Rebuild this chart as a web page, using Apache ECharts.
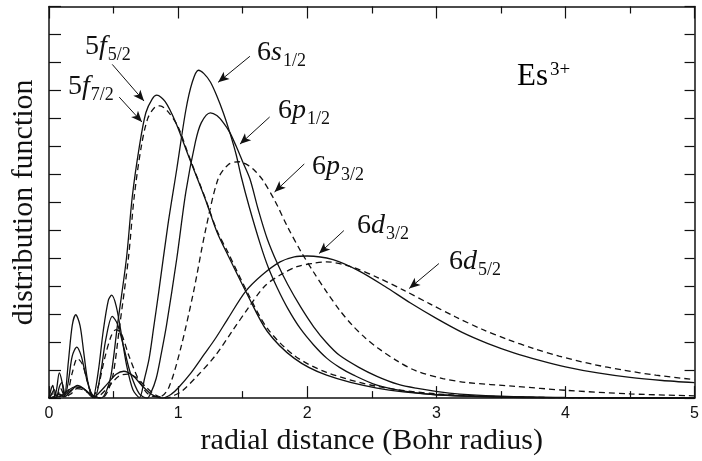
<!DOCTYPE html>
<html>
<head>
<meta charset="utf-8">
<script src="https://cdn.jsdelivr.net/npm/echarts@6/dist/echarts.min.js"></script>
<style>
  html, body { margin: 0; padding: 0; background: #fff; }
  #chart { width: 702px; height: 461px; }
</style>
</head>
<body>
<div id="chart"></div>
<script>
// radial distance (Bohr radius) vs distribution function
const f52 = [[0,0],[0.05,0.02],[0.1,0.1],[0.15,0.28],[0.2,0.4],[0.25,0.38],[0.3,0.22],[0.35,0.07],[0.4,0.0],[0.44,0.2],[0.48,0.8],[0.53,2.6],[0.6,5.0],[0.645,7.2],[0.7,9.0],[0.75,10.2],[0.8,10.7],[0.835,10.83],[0.9,10.6],[0.98,9.87],[1.08,8.66],[1.21,7.12],[1.3,5.95],[1.387,5.1],[1.54,3.67],[1.69,2.39],[1.9,1.42],[2.15,0.82],[2.54,0.36],[3.0,0.12],[3.5,0.04],[4,0.01],[5,0]];
const f72 = [[0,0],[0.05,0.02],[0.1,0.08],[0.15,0.22],[0.2,0.34],[0.25,0.32],[0.3,0.2],[0.35,0.06],[0.41,0.0],[0.45,0.2],[0.495,0.8],[0.545,2.5],[0.615,5.0],[0.66,7.2],[0.715,9.0],[0.765,10.0],[0.82,10.4],[0.86,10.45],[0.92,10.25],[1.0,9.7],[1.08,8.7],[1.21,7.15],[1.3,6.0],[1.387,5.2],[1.54,3.75],[1.69,2.5],[1.9,1.52],[2.15,0.92],[2.54,0.42],[3.0,0.15],[3.5,0.05],[4,0.015],[5,0]];
const s12 = [[0,0],[0.015,0.3],[0.03,0.45],[0.045,0.05],[0.06,0.35],[0.08,0.9],[0.1,0.6],[0.12,0.05],[0.15,1.3],[0.18,2.6],[0.207,2.98],[0.24,2.6],[0.27,1.6],[0.3,0.6],[0.34,0.02],[0.38,0.9],[0.42,2.4],[0.46,3.5],[0.485,3.68],[0.52,3.3],[0.56,2.3],[0.6,1.2],[0.65,0.3],[0.7,0.02],[0.74,0.7],[0.775,1.4],[0.81,2.5],[0.85,3.8],[0.92,6.16],[0.99,8.2],[1.06,10.3],[1.11,11.3],[1.157,11.72],[1.2,11.6],[1.25,11.3],[1.3,10.8],[1.35,10.2],[1.4,9.5],[1.45,8.7],[1.487,7.95],[1.55,6.85],[1.64,5.45],[1.7,4.65],[1.77,3.92],[1.85,3.2],[1.946,2.49],[2.05,1.9],[2.153,1.42],[2.25,1.1],[2.36,0.82],[2.54,0.46],[2.75,0.25],[3.0,0.12],[3.5,0.04],[4.0,0.015],[5,0.002]];
const p12 = [[0,0],[0.02,0.15],[0.04,0.3],[0.06,0.05],[0.08,0.4],[0.1,0.55],[0.125,0.1],[0.15,0.6],[0.18,1.5],[0.215,1.82],[0.25,1.5],[0.28,0.9],[0.32,0.25],[0.355,0.02],[0.4,0.9],[0.44,2.1],[0.49,2.92],[0.53,2.65],[0.58,1.8],[0.63,0.9],[0.7,0.15],[0.76,0.0],[0.79,0.2],[0.83,0.7],[0.87,1.6],[0.91,2.6],[0.99,5.0],[1.06,7.37],[1.134,9.16],[1.18,9.85],[1.25,10.2],[1.3,10.1],[1.35,9.85],[1.4,9.5],[1.45,9.0],[1.5,8.45],[1.556,7.84],[1.62,6.75],[1.69,5.7],[1.77,4.8],[1.85,4.05],[1.95,3.25],[2.05,2.55],[2.15,1.98],[2.25,1.53],[2.4,1.1],[2.54,0.78],[2.7,0.5],[2.84,0.36],[3.1,0.18],[3.5,0.07],[4,0.025],[5,0.003]];
const p32 = [[0,0],[0.03,0.15],[0.06,0.05],[0.09,0.35],[0.12,0.1],[0.145,0.2],[0.18,0.9],[0.22,1.42],[0.26,1.2],[0.3,0.55],[0.34,0.05],[0.38,0.4],[0.43,1.4],[0.48,2.2],[0.52,2.45],[0.56,2.3],[0.62,1.5],[0.7,0.6],[0.78,0.1],[0.86,0.05],[0.93,0.4],[1.02,1.78],[1.12,3.81],[1.21,5.95],[1.31,7.84],[1.39,8.35],[1.47,8.45],[1.55,8.3],[1.6,8.1],[1.655,7.8],[1.75,7.05],[1.85,6.1],[1.95,5.25],[2.05,4.5],[2.15,3.8],[2.25,3.15],[2.35,2.6],[2.45,2.15],[2.55,1.78],[2.7,1.32],[2.84,0.98],[3.05,0.7],[3.23,0.56],[3.61,0.42],[4.0,0.28],[4.5,0.15],[5,0.08]];
const d32 = [[0,0],[0.04,0.05],[0.08,0.15],[0.12,0.05],[0.16,0.2],[0.22,0.45],[0.28,0.3],[0.34,0.03],[0.38,0.15],[0.45,0.5],[0.52,0.85],[0.58,0.96],[0.65,0.8],[0.72,0.45],[0.8,0.12],[0.88,0.0],[0.95,0.15],[1.0,0.36],[1.1,0.9],[1.2,1.55],[1.29,2.14],[1.387,2.85],[1.52,3.8],[1.65,4.4],[1.79,4.87],[1.9,5.05],[2.0,5.08],[2.2,4.95],[2.4,4.55],[2.6,4.0],[2.8,3.4],[3.0,2.85],[3.2,2.35],[3.4,1.95],[3.6,1.62],[3.8,1.35],[4.0,1.12],[4.25,0.9],[4.5,0.74],[4.75,0.63],[5,0.55]];
const d52 = [[0,0],[0.04,0.04],[0.08,0.12],[0.12,0.04],[0.17,0.15],[0.23,0.38],[0.29,0.25],[0.35,0.02],[0.4,0.12],[0.47,0.45],[0.54,0.78],[0.61,0.86],[0.68,0.72],[0.75,0.4],[0.83,0.1],[0.91,0.0],[0.97,0.1],[1.03,0.25],[1.15,0.8],[1.29,1.53],[1.42,2.4],[1.54,3.2],[1.67,4.0],[1.79,4.4],[1.92,4.7],[2.05,4.82],[2.15,4.87],[2.35,4.68],[2.55,4.3],[2.75,3.85],[2.95,3.37],[3.15,2.9],[3.35,2.47],[3.55,2.1],[3.75,1.78],[3.95,1.5],[4.2,1.22],[4.45,1.0],[4.7,0.82],[5,0.66]];

// annotation arrows: [from, to] in data units
const arrows = [
  [[0.49, 11.93], [0.736, 10.62]],
  [[0.544, 10.76], [0.72, 9.87]],
  [[1.556, 12.22], [1.31, 11.29]],
  [[1.709, 10.05], [1.479, 9.08]],
  [[1.977, 8.37], [1.747, 7.37]],
  [[2.284, 5.99], [2.092, 5.17]],
  [[3.02, 4.81], [2.79, 3.92]]
];

const xTicks = ['0', '1', '2', '3', '4', '5'];

const serif = '"Liberation Serif", "Times New Roman", serif';
const ink = '#111';

function curve(name, data, dashed) {
  return {
    name: name,
    type: 'line',
    data: data,
    smooth: 0.3,
    showSymbol: false,
    symbol: 'none',
    lineStyle: { color: ink, width: 1.3, type: dashed ? [6, 4] : 'solid' },
    z: 3
  };
}

const rich = {
  n: { fontFamily: serif, fontSize: 28, lineHeight: 28, color: ink },
  i: { fontFamily: serif, fontSize: 28, lineHeight: 28, fontStyle: 'italic', color: ink },
  sub: { fontFamily: serif, fontSize: 18, lineHeight: 18, padding: [16, 0, 0, 1], color: ink },
  sup: { fontFamily: serif, fontSize: 19, lineHeight: 19, padding: [0, 0, 12, 2], color: ink }
};

function label(x, y, text) {
  return {
    type: 'text', left: x, top: y,
    style: { text: text, rich: rich, fill: ink }
  };
}

const chart = echarts.init(document.getElementById('chart'));
chart.setOption({
  animation: false,
  backgroundColor: '#fff',
  grid: { left: 49, right: 2, top: 6.5, bottom: 61 },
  xAxis: [{
    type: 'value', min: 0, max: 5, interval: 1,
    name: 'radial distance (Bohr radius)', nameLocation: 'middle', nameGap: 24,
    nameTextStyle: { fontFamily: serif, fontSize: 30, color: ink },
    axisLine: { show: true, onZero: false, lineStyle: { color: ink, width: 1.5 } },
    axisTick: { show: true, inside: true, length: 12, lineStyle: { color: ink, width: 1.2 } },
    minorTick: { show: true, splitNumber: 2, length: 7, lineStyle: { color: ink, width: 1.2 } },
    axisLabel: { margin: 7, fontFamily: '"Liberation Sans", Arial, sans-serif', fontSize: 16, color: ink,
      formatter: v => xTicks[Math.round(v)] },
    splitLine: { show: false }
  }, {
    type: 'value', min: 0, max: 5, interval: 1, position: 'top',
    axisLine: { show: true, onZero: false, lineStyle: { color: ink, width: 1.5 } },
    axisTick: { show: true, inside: true, length: 12, lineStyle: { color: ink, width: 1.2 } },
    minorTick: { show: true, splitNumber: 2, length: 7, lineStyle: { color: ink, width: 1.2 } },
    axisLabel: { show: false },
    splitLine: { show: false }
  }],
  yAxis: [{
    type: 'value', min: 0, max: 14, interval: 1,
    name: 'distribution function', nameLocation: 'middle', nameGap: 10,
    nameTextStyle: { fontFamily: serif, fontSize: 30, color: ink },
    axisLine: { show: true, onZero: false, lineStyle: { color: ink, width: 1.5 } },
    axisTick: { show: true, inside: true, length: 12, lineStyle: { color: ink, width: 1.2 } },
    axisLabel: { show: false },
    splitLine: { show: false }
  }, {
    type: 'value', min: 0, max: 14, interval: 1, position: 'right',
    axisLine: { show: true, onZero: false, lineStyle: { color: ink, width: 1.5 } },
    axisTick: { show: true, inside: true, length: 10, lineStyle: { color: ink, width: 1.2 } },
    axisLabel: { show: false },
    splitLine: { show: false }
  }],
  series: [
    curve('5f5/2', f52, false),
    curve('5f7/2', f72, true),
    curve('6s1/2', s12, false),
    curve('6p1/2', p12, false),
    curve('6p3/2', p32, true),
    curve('6d3/2', d32, false),
    curve('6d5/2', d52, true),
    {
      name: 'arrows', type: 'line', data: [], silent: true,
      markLine: {
        silent: true, animation: false,
        symbol: ['none', 'arrow'], symbolSize: [7, 11],
        label: { show: false },
        lineStyle: { color: ink, width: 1, type: 'solid' },
        emphasis: { disabled: true },
        data: arrows.map(a => [{ coord: a[0] }, { coord: a[1] }])
      }
    }
  ],
  graphic: [
    label(85, 30, '{n|5}{i|f}{sub|5/2}'),
    label(68, 70, '{n|5}{i|f}{sub|7/2}'),
    label(257, 36, '{n|6}{i|s}{sub|1/2}'),
    label(278, 94, '{n|6}{i|p}{sub|1/2}'),
    label(312, 150, '{n|6}{i|p}{sub|3/2}'),
    label(357, 209, '{n|6}{i|d}{sub|3/2}'),
    label(449, 245, '{n|6}{i|d}{sub|5/2}'),
    {
      type: 'text', left: 517, top: 61,
      style: { text: '{e|Es}{sup|3+}', rich: {
        e: { fontFamily: serif, fontSize: 31, lineHeight: 31, color: ink },
        sup: rich.sup
      } }
    }
  ]
});
</script>
</body>
</html>
